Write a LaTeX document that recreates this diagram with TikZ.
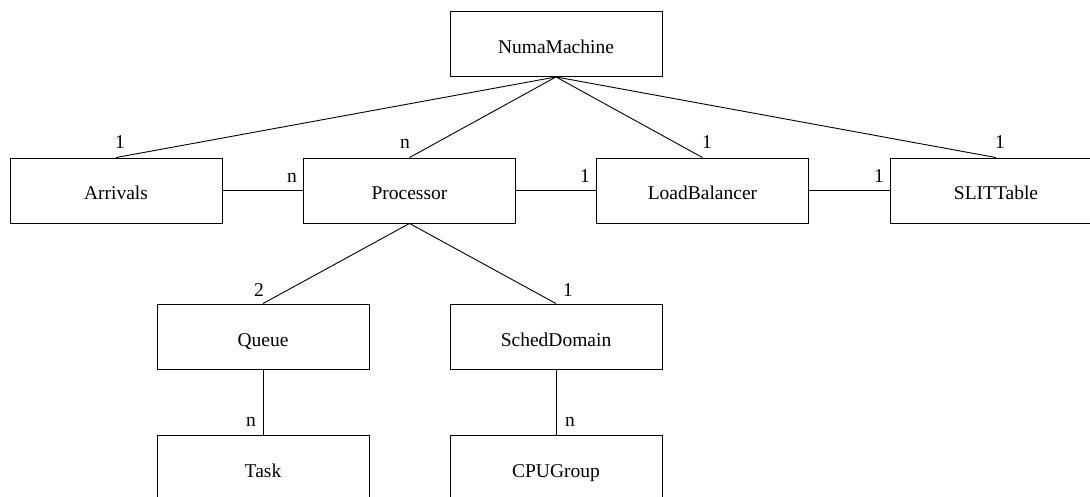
\documentclass[tikz,border=0pt]{standalone}
\usepackage{fontspec}
\setmainfont{Liberation Serif}
\begin{document}
\begin{tikzpicture}[x=1pt,y=-1pt,
  cls/.style={draw, line width=0.9pt, rectangle, minimum width=212pt, minimum height=65pt, inner sep=0pt, text height=19pt, text depth=0pt, font=\fontsize{19.5}{23}\selectfont},
  conn/.style={line width=0.9pt},
  mult/.style={inner sep=0pt, font=\fontsize{19.5}{23}\selectfont}]
\clip (0,0) rectangle (1090,497);
\fill[white] (0,0) rectangle (1090,497);
\node[cls] (numa) at (556,44) {NumaMachine};
\node[cls] (arr) at (116,190.5) {Arrivals};
\node[cls] (proc) at (409.5,190.5) {Processor};
\node[cls] (lb) at (702.5,190.5) {LoadBalancer};
\node[cls] (slit) at (996,190.5) {SLITTable};
\node[cls] (queue) at (263,336.5) {Queue};
\node[cls] (sched) at (556,336.5) {SchedDomain};
\node[cls] (task) at (263,467.5) {Task};
\node[cls] (cpu) at (556,467.5) {CPUGroup};
\draw[conn] (numa.south) -- (arr.north);
\draw[conn] (numa.south) -- (proc.north);
\draw[conn] (numa.south) -- (lb.north);
\draw[conn] (numa.south) -- (slit.north);
\draw[conn] (arr.east) -- (proc.west);
\draw[conn] (proc.east) -- (lb.west);
\draw[conn] (lb.east) -- (slit.west);
\draw[conn] (proc.south) -- (queue.north);
\draw[conn] (proc.south) -- (sched.north);
\draw[conn] (queue.south) -- (task.north);
\draw[conn] (sched.south) -- (cpu.north);
\node[mult, anchor=base west] (m1) at (115,149) {1};
\node[mult, anchor=base east] (m2) at (410,149) {n};
\node[mult, anchor=base west] (m3) at (702,149) {1};
\node[mult, anchor=base west] (m4) at (995,149) {1};
\node[mult, anchor=base east] (m5) at (297,182.7) {n};
\node[mult, anchor=base east] (m6) at (590,182.7) {1};
\node[mult, anchor=base east] (m7) at (884,182.7) {1};
\node[mult, anchor=base east] (m8) at (264,296.7) {2};
\node[mult, anchor=base west] (m9) at (563,296.7) {1};
\node[mult, anchor=base east] (m10) at (256,426.7) {n};
\node[mult, anchor=base west] (m11) at (565,426.7) {n};
\end{tikzpicture}
\end{document}
